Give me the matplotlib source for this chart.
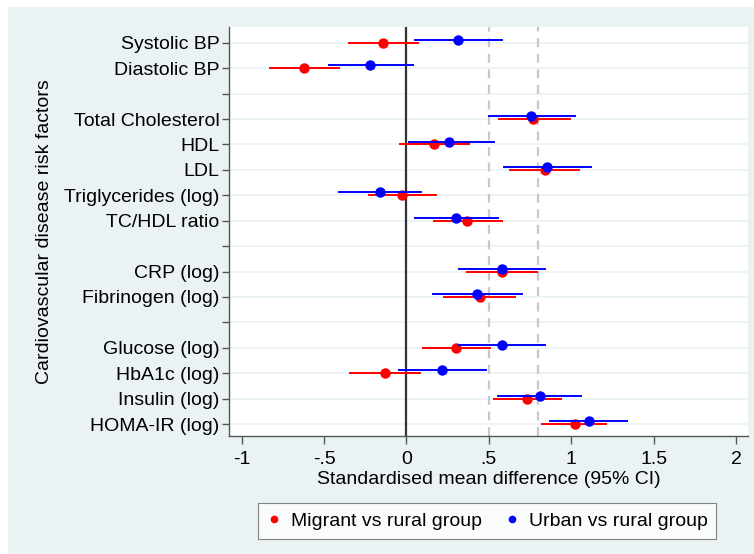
import matplotlib
matplotlib.use("Agg")
import matplotlib.pyplot as plt
from matplotlib.patches import Rectangle

plt.rcParams['font.family'] = ['Liberation Sans', 'DejaVu Sans']

labels = ["Systolic BP", "Diastolic BP", "", "Total Cholesterol", "HDL", "LDL",
          "Triglycerides (log)", "TC/HDL ratio", "", "CRP (log)", "Fibrinogen (log)", "",
          "Glucose (log)", "HbA1c (log)", "Insulin (log)", "HOMA-IR (log)"]

# Migrant vs rural (red); None for empty spacer rows
mig_est = [-0.14, -0.62, None, 0.77, 0.17, 0.84, -0.03, 0.37, None, 0.58, 0.445, None, 0.30, -0.13, 0.73, 1.02]
mig_lo  = [-0.35, -0.83, None, 0.56, -0.04, 0.63, -0.23, 0.165, None, 0.37, 0.23, None, 0.10, -0.345, 0.53, 0.82]
mig_hi  = [0.07, -0.41, None, 0.99, 0.38, 1.05, 0.18, 0.58, None, 0.79, 0.66, None, 0.51, 0.08, 0.935, 1.21]

# Urban vs rural (blue)
urb_est = [0.31, -0.22, None, 0.755, 0.26, 0.854, -0.16, 0.30, None, 0.58, 0.43, None, 0.58, 0.215, 0.81, 1.105]
urb_lo  = [0.05, -0.47, None, 0.50, 0.014, 0.59, -0.41, 0.05, None, 0.32, 0.16, None, 0.32, -0.045, 0.556, 0.87]
urb_hi  = [0.58, 0.04, None, 1.02, 0.53, 1.12, 0.09, 0.555, None, 0.84, 0.70, None, 0.84, 0.48, 1.06, 1.34]

xticks = [-1, -0.5, 0, 0.5, 1, 1.5, 2]
xticklabels = ["-1", "-.5", "0", ".5", "1", "1.5", "2"]
ref_lines = [0.5, 0.8]

bg = "#eaf2f3"
fs = 14
fig = plt.figure(figsize=(7.54, 5.54), dpi=100, facecolor="white")
fig.patches.append(Rectangle((8/754, 0), 1 - 8/754, 1 - 7/554, transform=fig.transFigure,
                             facecolor=bg, edgecolor="none", zorder=-10))
ax = fig.add_axes([229/754, 1 - 436/554, (748-229)/754, (436-27)/554])
ax.set_facecolor("white")

rows = list(range(1, len(labels) + 1))
ax.set_ylim(16.47, 0.38)
ax.set_xlim(-1.077, 2.073)

for y in rows:
    ax.axhline(y, color=bg, lw=1.2, zorder=0)
for xv in ref_lines:
    ax.axvline(xv, color="#c8c8c8", lw=1.6, ls=(0, (4, 3)), zorder=1)
ax.axvline(0, color="#333333", lw=1.6, zorder=1)

off = 0.11
ms = 7.5
for i, y in enumerate(rows):
    if mig_est[i] is not None:
        ax.plot([mig_lo[i], mig_hi[i]], [y, y], color="#ff0000", lw=1.4, zorder=2)
        ax.plot(mig_est[i], y, 'o', color="#ff0000", ms=ms, mec="none", zorder=3)
    if urb_est[i] is not None:
        ax.plot([urb_lo[i], urb_hi[i]], [y - off, y - off], color="#0000ff", lw=1.4, zorder=4)
        ax.plot(urb_est[i], y - off, 'o', color="#0000ff", ms=ms, mec="none", zorder=5)

ax.set_yticks(rows)
ax.set_yticklabels(labels, fontsize=fs)
ax.set_xticks(xticks)
ax.set_xticklabels(xticklabels, fontsize=fs)
ax.tick_params(axis='y', colors="#555555", length=5, width=1, labelcolor="black", pad=2)
ax.tick_params(axis='x', colors="#555555", length=5.8, width=1, labelcolor="black", pad=5)
for s in ["top", "right"]:
    ax.spines[s].set_visible(False)
for s in ["left", "bottom"]:
    ax.spines[s].set_color("#555555")
    ax.spines[s].set_linewidth(1)

ax.set_xlabel("Standardised mean difference (95% CI)", fontsize=fs, labelpad=2)
ax.set_ylabel("Cardiovascular disease risk factors", fontsize=fs, labelpad=8)

h1, = ax.plot([], [], 'o', color="#ff0000", ms=5.5, mec="none")
h2, = ax.plot([], [], 'o', color="#0000ff", ms=5.5, mec="none")
leg = fig.legend([h1, h2], ["Migrant vs rural group", "Urban vs rural group"], ncol=2,
                 loc="center", bbox_to_anchor=(487/754, 1 - 521/554), fontsize=fs,
                 frameon=True, fancybox=False, edgecolor="#666666", handletextpad=0.45,
                 columnspacing=1.15, borderpad=0.45, handlelength=0.8)
leg.get_frame().set_linewidth(0.8)

fig.savefig("out.png", dpi=100, facecolor=fig.get_facecolor())
